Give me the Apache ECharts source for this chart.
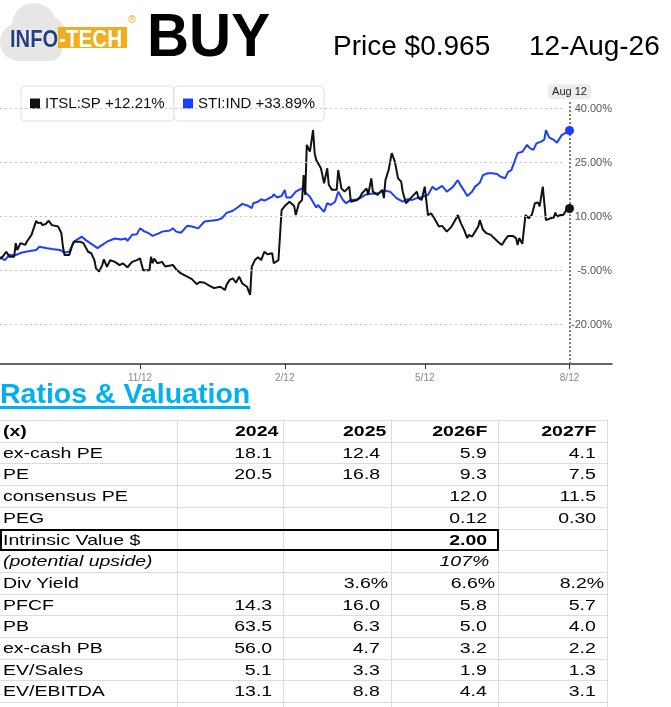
<!DOCTYPE html>
<html><head><meta charset="utf-8">
<script src="https://cdn.jsdelivr.net/npm/echarts@6/dist/echarts.min.js"></script>
<style>
html,body{margin:0;padding:0;background:#fff;width:671px;height:707px;overflow:hidden;font-family:"Liberation Sans",Arial,sans-serif;}
#chart{position:absolute;left:0;top:0;width:671px;height:400px;}
.abs{position:absolute;white-space:nowrap;}
.sx{display:inline-block;}
.cl{position:absolute;border-radius:50%;background:#e6e6e6;}
</style></head><body>
<div id="chart"></div>

<!-- logo -->
<div class="abs" style="left:0;top:3px;width:68px;height:60px;">
  <div class="cl" style="left:0;top:20px;width:38px;height:38px;"></div>
  <div class="cl" style="left:12px;top:0;width:44px;height:44px;"></div>
  <div class="cl" style="left:32px;top:14px;width:34px;height:34px;"></div>
  <div class="abs" style="left:8px;top:30px;width:54px;height:28px;border-radius:12px;background:#e6e6e6;"></div>
</div>
<div class="abs" style="left:58px;top:27px;width:69px;height:21px;background:#f2ad1e;"></div>
<div class="abs" style="left:10px;top:26.7px;font-size:24px;line-height:24px;font-weight:bold;color:#243f7e;text-shadow:0 0 2px #fff,0 0 1px #fff;"><span class="sx" style="transform:scaleX(0.84);transform-origin:left center;">INFO</span></div>
<div class="abs" style="left:59px;top:26.7px;font-size:24px;line-height:24px;font-weight:bold;color:#fff;"><span class="sx" style="transform:scaleX(0.86);transform-origin:left center;">-TECH</span></div>
<div class="abs" style="left:128px;top:14px;font-size:11px;line-height:11px;color:#f2ad1e;">®</div>

<div class="abs" style="left:147px;top:4px;font-size:62px;line-height:62px;font-weight:bold;color:#000;"><span class="sx" style="transform:scaleX(0.94);transform-origin:left center;">BUY</span></div>
<div class="abs" style="left:333px;top:32px;font-size:28px;line-height:28px;color:#000;">Price $0.965</div>
<div class="abs" style="left:529px;top:32px;font-size:28px;line-height:28px;color:#000;">12-Aug-26</div>

<div class="abs" style="left:0;top:379px;font-size:28.5px;line-height:28.5px;font-weight:bold;color:#00b0f0;text-decoration:underline;text-decoration-thickness:3px;text-underline-offset:3px;">Ratios &amp; Valuation</div>

<div id="table"></div>

<script>
// ---------- chart data ----------
const seriesNames = ['ITSL:SP', 'STI:IND'];
const legendChange = ['+12.21%', '+33.89%'];
// day offsets from 12 Aug 2025
const itslDays = [3,5,7,9,12,13,14,16,19,20,23,26,27,29,30,32,34,36,40,42,43,44,47,49,50,54,55,56,59,61,63,64,66,68,69,71,73,76,79,81,84,87,90,92,94,98,99,100,101,103,106,108,109,113,115,118,122,125,128,130,133,136,139,143,146,147,149,151,153,155,157,160,162,163,165,167,169,171,173,176,177,180,182,184,187,190,191,193,195,196,197,198,200,201,202,203,204,205,207,209,211,212,214,217,218,220,222,225,226,230,232,233,236,237,239,240,243,246,247,248,250,252,254,256,258,259,261,263,266,268,269,271,273,275,277,279,280,282,284,287,290,293,294,296,298,300,301,303,305,307,308,310,311,312,315,317,320,322,324,326,329,331,332,333,335,336,337,339,341,343,345,346,348,350,353,355,356,357,359,361,363,365];
const itslValues = [-1.8,-1.0,0.2,-1.2,-1.2,2.6,0.7,2.6,2.1,3.0,4.9,8.8,8.2,8.3,7.6,7.9,8.8,7.6,7.2,5.4,1.6,-0.7,-0.7,2.1,3.0,3.0,3.3,2.6,0.2,-0.2,-2.1,-4.4,-5.3,-3.5,-1.9,-4.0,-2.1,-2.6,-3.5,-3.0,-4.1,-2.6,-2.1,-1.6,-4.9,-4.9,-1.2,-3.0,-1.7,-3.0,-2.6,-3.9,-3.5,-3.5,-4.7,-5.8,-6.7,-7.4,-8.8,-8.2,-8.4,-9.2,-9.9,-9.5,-10.4,-9.0,-7.6,-7.2,-8.4,-6.7,-8.6,-9.5,-11.8,-4.0,-2.1,-1.3,-2.1,0.2,-0.5,-0.2,-3.0,-2.1,11.8,12.9,14.1,12.9,10.4,13.7,14.6,21.5,16.0,29.9,28.0,27.6,34.0,27.6,25.7,26.2,23.4,19.2,23.4,18.8,17.4,17.4,22.9,17.8,16.9,18.3,14.1,14.6,15.5,16.4,17.8,16.0,20.6,16.9,16.0,17.4,15.1,20.1,22.9,27.6,25.2,20.6,19.7,16.9,13.7,14.6,16.0,16.9,15.1,14.6,18.3,10.4,10.9,9.5,10.0,7.2,7.4,5.8,7.2,9.5,10.4,8.1,6.3,4.0,4.9,4.4,5.8,7.2,9.0,6.3,6.7,5.4,4.9,4.0,2.8,2.1,3.5,4.6,4.6,4.0,2.1,4.0,2.4,2.1,10.4,9.5,10.4,13.7,13.9,12.8,18.3,9.0,9.5,9.7,11.1,10.0,10.4,10.4,11.8,12.21];
const stiDays = [3,6,9,13,17,22,26,28,33,36,41,44,47,50,55,58,62,65,68,71,76,80,83,84,87,90,92,95,97,100,104,106,111,113,115,118,122,125,129,133,137,141,144,147,151,154,157,161,163,164,167,169,171,173,176,177,179,182,184,185,188,191,195,198,200,201,204,205,209,211,213,216,218,221,223,226,230,232,235,238,242,244,247,251,252,255,259,262,265,268,272,275,278,280,284,287,291,294,296,298,300,303,305,308,310,313,316,319,321,322,324,326,328,330,332,335,338,340,342,344,347,349,350,352,355,357,360,362,365];
const stiValues = [-1.3,-2.1,-0.7,-0.7,0.0,0.4,0.7,1.6,1.2,1.0,0.7,0.0,0.2,3.0,4.4,3.3,2.1,1.2,2.1,3.0,3.9,3.6,3.9,3.2,4.9,5.1,6.7,5.8,5.5,4.6,5.3,5.8,6.1,6.7,5.8,5.5,7.4,7.2,6.7,8.6,8.8,9.0,9.5,11.0,11.6,12.5,13.5,12.9,12.3,13.7,14.1,14.8,14.4,14.8,15.5,16.2,15.3,15.7,17.4,15.3,15.3,16.9,17.8,16.3,15.5,15.1,12.5,13.2,11.3,13.7,13.2,14.1,16.9,14.6,13.7,14.6,14.7,15.1,16.0,16.3,16.3,16.6,17.2,16.9,16.9,15.1,14.1,14.8,14.6,15.1,15.5,16.0,18.3,17.4,18.5,16.9,18.3,20.1,18.5,17.2,15.7,16.9,18.3,19.4,21.5,22.0,22.0,21.8,21.1,21.5,20.6,22.4,22.9,25.2,27.6,28.0,29.9,28.9,28.5,30.3,30.8,31.4,34.0,32.0,31.3,30.5,32.6,33.1,33.89];
const xTickDays = [92, 184, 273, 365];
const xTickLabels = ['11/12', '2/12', '5/12', '8/12'];
const yTicks = [-20, -5, 10, 25, 40];
const cursorLabel = 'Aug 12';

// ---------- table data ----------
const rowLabels = ['(x)','ex-cash PE','PE','consensus PE','PEG','Intrinsic Value $','(potential upside)','Div Yield','PFCF','PB','ex-cash PB','EV/Sales','EV/EBITDA'];
const col2024  = ['2024','18.1','20.5','','','','','','14.3','63.5','56.0','5.1','13.1'];
const col2025  = ['2025','12.4','16.8','','','','','3.6%','16.0','6.3','4.7','3.3','8.8'];
const col2026F = ['2026F','5.9','9.3','12.0','0.12','2.00','107%','6.6%','5.8','5.0','3.2','1.9','4.4'];
const col2027F = ['2027F','4.1','7.5','11.5','0.30','','','8.2%','5.7','4.0','2.2','1.3','3.1'];

// ---------- chart ----------
const FONT = '"Liberation Sans", Arial, Helvetica, sans-serif';
const XMIN = 3, XMAX = 392, YMIN = -31, YMAX = 45;
const chart = echarts.init(document.getElementById('chart'), null, {renderer: 'canvas'});
const itslData = itslDays.map((d, i) => [d, itslValues[i]]);
const stiData = stiDays.map((d, i) => [d, stiValues[i]]);
const lastItsl = itslData[itslData.length - 1];
const lastSti = stiData[stiData.length - 1];
const cursorDay = xTickDays[xTickDays.length - 1];

function legendCfg(idx, left) {
  return {
    data: [seriesNames[idx]], left: left, top: 86, orient: 'horizontal',
    icon: 'rect', itemWidth: 10, itemHeight: 10, selectedMode: false,
    padding: [10, 9], backgroundColor: '#fff', borderColor: '#e2e2e2', borderWidth: 1, borderRadius: 4,
    textStyle: {fontSize: 15, color: '#111', fontFamily: FONT},
    formatter: n => n + ' ' + legendChange[idx]
  };
}

const gridLines = yTicks.map(t => [{coord: [XMIN, t]}, {coord: [361, t]}]);
gridLines.push([
  {coord: [cursorDay, YMIN], lineStyle: {type: [2, 2], color: '#7a7a7a', width: 2},
   label: {show: true, position: 'end', formatter: cursorLabel, backgroundColor: '#ececec', color: '#222',
           padding: [2, 4], borderRadius: 3, fontSize: 11, fontFamily: FONT, distance: 1}},
  {coord: [cursorDay, 42.3]}
]);

chart.setOption({
  animation: false,
  grid: {left: 0, top: 90.5, width: 612, height: 273.6, containLabel: false},
  xAxis: {
    type: 'value', min: XMIN, max: XMAX,
    axisLine: {show: true, onZero: false, lineStyle: {color: '#333', width: 1.5}},
    axisTick: {show: true, customValues: xTickDays, length: 5, lineStyle: {color: '#333'}},
    axisLabel: {customValues: xTickDays, formatter: v => xTickLabels[xTickDays.indexOf(v)], fontSize: 10, color: '#888', margin: 9, fontFamily: FONT},
    splitLine: {show: false}
  },
  yAxis: {
    type: 'value', position: 'right', min: YMIN, max: YMAX,
    axisLine: {show: false, onZero: false}, axisTick: {show: false}, splitLine: {show: false},
    axisLabel: {inside: true, margin: 0, customValues: yTicks, formatter: v => v.toFixed(2) + '%', fontSize: 11, color: '#555', fontFamily: FONT}
  },
  legend: [legendCfg(0, 21), legendCfg(1, 174)],
  series: [
    {
      name: 'grid', type: 'line', data: [], z: 1, silent: true,
      markLine: {silent: true, symbol: ['none', 'none'], animation: false, label: {show: false},
                 lineStyle: {type: [2, 3], color: '#c9c9c9', width: 1}, data: gridLines}
    },
    {
      name: seriesNames[1], type: 'line', data: stiData, showSymbol: false, color: '#1c3ffd',
      lineStyle: {width: 2}, z: 3, silent: true,
      markPoint: {symbol: 'circle', symbolSize: 9, silent: true, label: {show: false}, itemStyle: {color: '#1c3ffd'}, data: [{coord: lastSti}]}
    },
    {
      name: seriesNames[0], type: 'line', data: itslData, showSymbol: false, color: '#111',
      lineStyle: {width: 2}, z: 4, silent: true,
      markPoint: {symbol: 'circle', symbolSize: 9, silent: true, label: {show: false}, itemStyle: {color: '#111'}, data: [{coord: lastItsl}]}
    }
  ]
});

// ---------- table ----------
const T = document.getElementById('table');
const TOP = 420, RH = 21.7, NROWS = rowLabels.length;
const colLines = [177, 283, 391, 498, 607];
const cols = [col2024, col2025, col2026F, col2027F];
const colRights = [283, 391, 498, 607];
const SX = 1.3;
let html = '';
for (let i = 0; i <= NROWS; i++) {
  html += `<div class="abs" style="left:0;top:${(TOP + RH * i).toFixed(1)}px;width:607px;height:1px;background:#dcdcdc;"></div>`;
}
colLines.forEach(x => {
  html += `<div class="abs" style="left:${x}px;top:${TOP}px;width:1px;height:${707 - TOP}px;background:#dcdcdc;"></div>`;
});
// intrinsic value box
html += `<div class="abs" style="left:0;top:${(TOP + RH * 5).toFixed(1)}px;width:499px;height:${(RH + 1).toFixed(1)}px;border:2px solid #000;box-sizing:border-box;"></div>`;
for (let i = 0; i < NROWS; i++) {
  const top = TOP + RH * i;
  const bold = i === 0;
  const ital = rowLabels[i].startsWith('(p');
  const st = `top:${top.toFixed(1)}px;height:${RH}px;line-height:${RH + 1}px;font-size:15px;color:#000;${bold ? 'font-weight:bold;' : ''}${ital ? 'font-style:italic;' : ''}`;
  html += `<div class="abs" style="left:3px;${st}"><span class="sx" style="transform:scaleX(${SX});transform-origin:left center;">${rowLabels[i]}</span></div>`;
  cols.forEach((col, c) => {
    const v = col[i];
    if (!v) return;
    let pad = 11;
    if (i === 0) pad = c < 2 ? 5 : 10;
    else if (ital) pad = 9;
    else if (v.endsWith('%')) pad = 3;
    const b = bold || (rowLabels[i].startsWith('Intrinsic'));
    const right = 671 - (colRights[c] - pad);
    html += `<div class="abs" style="right:${right}px;text-align:right;${st}${b ? 'font-weight:bold;' : ''}"><span class="sx" style="transform:scaleX(${SX});transform-origin:right center;">${v}</span></div>`;
  });
}
T.innerHTML = html;
</script>
</body></html>
